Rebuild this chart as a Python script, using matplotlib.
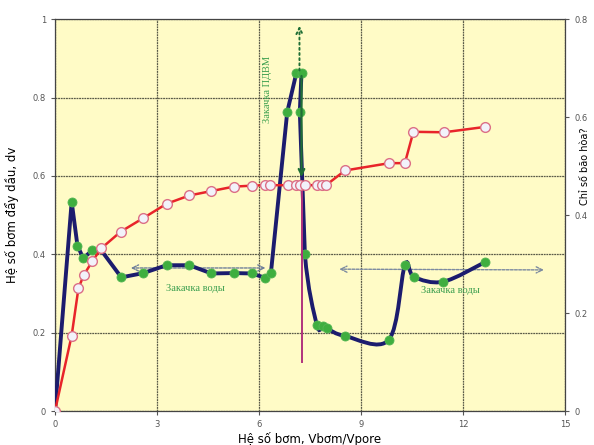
import matplotlib
matplotlib.use("Agg")
import matplotlib.pyplot as plt
from matplotlib.path import Path
from matplotlib.patches import PathPatch

# Oil displacement coefficient vs pore volumes injected
disp_x = [0, 0.49, 0.66, 0.83, 1.1, 1.36, 1.95, 2.6, 3.28, 3.95, 4.6, 5.25, 5.78,
          6.18, 6.35, 6.83, 7.1, 7.25, 7.2, 7.35, 7.7, 7.87, 7.99, 8.54, 9.82,
          10.29, 10.56, 11.42, 12.65]
disp_y = [0, 0.534, 0.422, 0.39, 0.41, 0.41, 0.341, 0.352, 0.372, 0.372, 0.351,
          0.352, 0.351, 0.34, 0.352, 0.763, 0.863, 0.863, 0.763, 0.4, 0.22, 0.218,
          0.211, 0.191, 0.182, 0.372, 0.342, 0.33, 0.38]
disp_marked = [False] + [True] * 4 + [False] + [True] * 23

# Secondary-axis series
sec_x = [0, 0.49, 0.69, 0.85, 1.1, 1.36, 1.93, 2.6, 3.28, 3.95, 4.6, 5.25, 5.78,
         6.18, 6.32, 6.85, 7.1, 7.2, 7.35, 7.7, 7.85, 7.97, 8.53, 9.83, 10.29,
         10.54, 11.44, 12.65]
sec_y = [0, 0.154, 0.251, 0.278, 0.306, 0.332, 0.366, 0.394, 0.423, 0.44, 0.449,
         0.458, 0.46, 0.461, 0.461, 0.461, 0.461, 0.461, 0.461, 0.461, 0.461, 0.461,
         0.491, 0.506, 0.506, 0.57, 0.569, 0.58]

x_ticks = [0, 3, 6, 9, 12, 15]
y_ticks = [0, 0.2, 0.4, 0.6, 0.8, 1]
y_tick_labels = ["0", "0.2", "0.4", "0.6", "0.8", "1"]
y2_ticks = [0, 0.2, 0.4, 0.6, 0.8]
y2_tick_labels = ["0", "0.2", "0.4", "0.6", "0.8"]

# index from which the curve is drawn smoothed
smooth_from = 19

BG = "#fffbc6"
GRID = "#5a5a48"
NAVY = "#1c1c6e"
GREEN = "#3fae3f"
DKGREEN = "#1f6e35"
RED = "#e8242a"
PINK = "#dc6f86"
TXTGREEN = "#3a9e4e"

fig = plt.figure(figsize=(5.94, 4.45), dpi=100)
ax = fig.add_axes([0.0926, 0.0764, 0.8586, 0.8806])
ax.set_facecolor(BG)
ax.set_xlim(0, 15)
ax.set_ylim(0, 1)
ax.set_xticks(x_ticks)
ax.set_xticklabels([str(v) for v in x_ticks])
ax.set_yticks(y_ticks)
ax.set_yticklabels(y_tick_labels)
ax.grid(True, color=GRID, lw=0.9, ls=(0, (1.5, 0.6)))
ax.tick_params(labelsize=6, colors="#555555", length=3, direction="out")
for s in ax.spines.values():
    s.set_color("#444444")
    s.set_linewidth(0.9)

# straight part of the displacement curve
ax.plot(disp_x[:smooth_from + 1], disp_y[:smooth_from + 1], color=NAVY, lw=2.8,
        zorder=3, solid_joinstyle="round")

# smoothed tail (Bezier through points, Catmull-Rom style control points)
verts = [(disp_x[smooth_from], disp_y[smooth_from])]
codes = [Path.MOVETO]
n = len(disp_x)
for i in range(smooth_from, n - 1):
    p0 = (disp_x[i - 1], disp_y[i - 1])
    p1 = (disp_x[i], disp_y[i])
    p2 = (disp_x[i + 1], disp_y[i + 1])
    p3 = (disp_x[i + 2], disp_y[i + 2]) if i + 2 < n else p2
    c1 = (p1[0] + (p2[0] - p0[0]) / 6, p1[1] + (p2[1] - p0[1]) / 6)
    c2 = (p2[0] - (p3[0] - p1[0]) / 6, p2[1] - (p3[1] - p1[1]) / 6)
    verts += [c1, c2, p2]
    codes += [Path.CURVE4] * 3
ax.add_patch(PathPatch(Path(verts, codes), fill=False, edgecolor=NAVY, lw=2.8,
                       zorder=3, capstyle="round"))

mx = [x for x, m in zip(disp_x, disp_marked) if m]
my = [y for y, m in zip(disp_y, disp_marked) if m]
ax.plot(mx, my, ls="none", marker="o", ms=6.5, mfc=GREEN, mec="#52b552", mew=0.6,
        zorder=4)

# injection markers
ax.plot([7.27, 7.27], [0.573, 0.124], color="#b0327c", lw=1.4, zorder=5)
ax.annotate("", xy=(7.25, 0.59), xytext=(7.25, 0.862),
            arrowprops=dict(arrowstyle="->", color=DKGREEN, lw=1.6,
                            mutation_scale=10), zorder=5)
ax.annotate("", xy=(7.19, 0.99), xytext=(7.19, 0.862),
            arrowprops=dict(arrowstyle="->", color=DKGREEN, lw=1.4, ls=":",
                            mutation_scale=11), zorder=5)
ax.annotate("", xy=(2.15, 0.365), xytext=(6.27, 0.365),
            arrowprops=dict(arrowstyle="<->", color="#6f7f9a", lw=1.0, ls=(0, (2, 1)),
                            mutation_scale=11), zorder=2)
ax.annotate("", xy=(8.28, 0.362), xytext=(14.46, 0.36),
            arrowprops=dict(arrowstyle="<->", color="#7c8aa0", lw=1.0, ls=(0, (2, 1)),
                            mutation_scale=11), zorder=2)

ax.text(6.24, 0.82, "Закачка ПДВМ", rotation=90, ha="center", va="center",
        fontsize=7.5, color=TXTGREEN, family="Liberation Serif")
ax.text(4.12, 0.313, "Закачка воды", ha="center", va="center", fontsize=7.5,
        color=TXTGREEN, family="Liberation Serif")
ax.text(11.62, 0.307, "Закачка воды", ha="center", va="center", fontsize=7.5,
        color=TXTGREEN, family="Liberation Serif")

ax.set_xlabel("Hệ số bơm, Vbơm/Vpore", fontsize=8.5, labelpad=2)
ax.set_ylabel("Hệ số bơm đẩy dầu, dv", fontsize=8.5, labelpad=10)

ax2 = ax.twinx()
ax2.set_ylim(0, 0.8)
ax2.set_yticks(y2_ticks)
ax2.set_yticklabels(y2_tick_labels)
ax2.tick_params(labelsize=6, colors="#555555", length=3, direction="out")
for s in ax2.spines.values():
    s.set_visible(False)
ax2.plot(sec_x, sec_y, color=RED, lw=1.8, marker="o", ms=7, mfc="#f2f2fa",
         mec=PINK, mew=1.0, zorder=6)
ax2.set_ylabel("Chỉ số bão hòa?", fontsize=7)
ax2.yaxis.set_label_coords(1.03, 0.625)

fig.savefig("out.png", dpi=100, facecolor="white")
